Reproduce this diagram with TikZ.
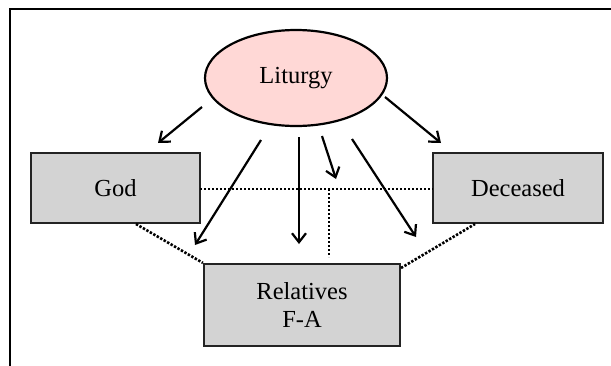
\documentclass[tikz,border=0pt]{standalone}
\usepackage{fontspec}
\setmainfont{Liberation Serif}
\usetikzlibrary{arrows.meta,shapes.geometric}
\definecolor{pinkfill}{RGB}{255,216,214}
\definecolor{boxfill}{RGB}{211,211,211}
\definecolor{edge}{RGB}{35,35,35}
\tikzset{
  boxnode/.style={draw=edge, line width=2.2pt, fill=boxfill, rectangle, inner sep=0pt,
    font=\fontsize{24.5}{28}\selectfont, align=center},
  ellnode/.style={draw=black, line width=2.2pt, fill=pinkfill, ellipse, inner sep=0pt,
    minimum width=182pt, minimum height=96pt, font=\fontsize{24.5}{28}\selectfont},
  arr/.style={line width=2.2pt, -{Straight Barb[length=9pt,width=14pt,line width=2.2pt]}},
  dots/.style={line width=2.6pt, dash pattern=on 2.4pt off 1.6pt},
}
\begin{document}
\begin{tikzpicture}[x=1pt,y=-1pt]
\useasboundingbox (0,0) rectangle (611,365);
% outer frame (clipped at right and bottom)
\draw[line width=2.2pt] (640,9) -- (10,9) -- (10,390);

\node[ellnode] (lit) at (296,78) {\raisebox{5pt}{Liturgy}};
\node[boxnode, minimum width=169pt, minimum height=70pt] (god) at (115.5,188) {God};
\node[boxnode, minimum width=170pt, minimum height=70pt] (dec) at (518,188) {Deceased};
\node[boxnode, minimum width=196pt, minimum height=82pt] (rel) at (302,305) {\raisebox{-8pt}{\parbox{150pt}{\centering Relatives\\F-A}}};

% arrow end points
\coordinate (a1s) at (202,107); \coordinate (a1e) at (158,143);
\coordinate (a2s) at (261,140); \coordinate (a2e) at (195,245);
\coordinate (a3s) at (299,137); \coordinate (a3e) at (299,244);
\coordinate (a4s) at (322,136); \coordinate (a4e) at (336,179);
\coordinate (a5s) at (352,139); \coordinate (a5e) at (416,237);
\coordinate (a6s) at (385,97);  \coordinate (a6e) at (441,143);

\draw[arr] (a1s) -- (a1e);
\draw[arr] (a2s) -- (a2e);
\draw[arr] (a3s) -- (a3e);
\draw[arr] (a4s) -- (a4e);
\draw[arr] (a5s) -- (a5e);
\draw[arr] (a6s) -- (a6e);

% dotted relations
\coordinate (hl) at (200,189); \coordinate (hr) at (433,189);
\coordinate (vt) at (329,189); \coordinate (vb) at (329,257);
\coordinate (gl) at (136,224); \coordinate (dl) at (475,224);
\coordinate (rr) at (401,268);
\draw[dots] (hl) -- (hr);
\draw[dots] (vt) -- (vb);
\draw[dots] (gl) -- (rel.north west);
\draw[dots] (rr) -- (dl);
\end{tikzpicture}
\end{document}
